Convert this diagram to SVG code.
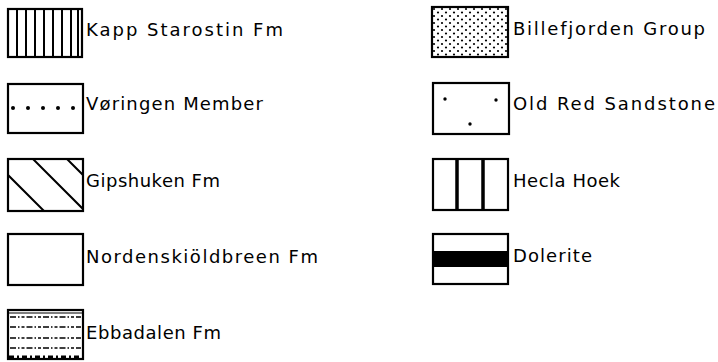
<svg xmlns="http://www.w3.org/2000/svg" width="718" height="362" viewBox="0 0 718 362">
<defs>
<style>
.box{fill:#fff;stroke:#000;stroke-width:2.2}
.ln{stroke:#000;stroke-width:2;fill:none}
.lbl{font-family:"DejaVu Sans","Liberation Sans",sans-serif;font-size:18px;fill:#000}
.dd{stroke:#000;stroke-width:1.6;stroke-dasharray:6 2 1.5 2 3 2}
</style>
<pattern id="stip" width="8" height="7" patternUnits="userSpaceOnUse">
<circle cx="2" cy="2" r="1.1" fill="#000"/>
<circle cx="6" cy="5.5" r="1.1" fill="#000"/>
</pattern>
<clipPath id="cg"><rect x="8" y="159" width="75" height="52"/></clipPath>
</defs>
<rect width="718" height="362" fill="#fff"/>

<g id="kapp">
<rect class="box" x="8" y="9" width="74" height="48"/>
<path class="ln" d="M17 9V57M26 9V57M35 9V57M44 9V57M53 9V57M62 9V57M71 9V57M78 9V57"/>
<text class="lbl" x="86" y="36" textLength="197">Kapp Starostin Fm</text>
</g>

<g id="voringen">
<rect class="box" x="8" y="84" width="75" height="49"/>
<g fill="#000"><circle cx="13" cy="108" r="2"/><circle cx="28" cy="108" r="2"/><circle cx="43" cy="108" r="2"/><circle cx="58" cy="108" r="2"/><circle cx="73" cy="108" r="2"/></g>
<text class="lbl" x="86" y="110" textLength="177">Vøringen Member</text>
</g>

<g id="gipshuken">
<rect class="box" x="8" y="159" width="75" height="52"/>
<path class="ln" clip-path="url(#cg)" d="M-8 159L44 211M33 159L85 211M67 159L119 211"/>
<text class="lbl" x="86" y="187" textLength="134">Gipshuken Fm</text>
</g>

<g id="nordenskioldbreen">
<rect class="box" x="8" y="234" width="75" height="51"/>
<text class="lbl" x="86" y="263" textLength="232">Nordenskiöldbreen Fm</text>
</g>

<g id="ebbadalen">
<rect class="box" x="8" y="310" width="75" height="49"/>
<path class="ln" style="stroke-width:1.2" d="M8 313H83"/>
<path class="dd" d="M10 317H81M10 327H81M10 338H81M10 348H81"/>
<path d="M9 357H82" stroke="#000" stroke-width="3" stroke-dasharray="5 3 2 3"/>
<text class="lbl" x="86" y="339" textLength="135">Ebbadalen Fm</text>
</g>

<g id="billefjorden">
<rect class="box" x="432" y="7" width="76" height="50"/>
<rect x="433" y="8" width="74" height="48" fill="url(#stip)"/>
<text class="lbl" x="513" y="35" textLength="192">Billefjorden Group</text>
</g>

<g id="oldred">
<rect class="box" x="433" y="83" width="76" height="51"/>
<g fill="#000"><circle cx="445" cy="99" r="1.7"/><circle cx="496" cy="100" r="1.7"/><circle cx="470" cy="124" r="1.7"/></g>
<text class="lbl" x="513" y="110" textLength="202">Old Red Sandstone</text>
</g>

<g id="hecla">
<rect class="box" x="433" y="159" width="75" height="51"/>
<path class="ln" style="stroke-width:3.5" d="M457 159V210M483 159V210"/>
<text class="lbl" x="513" y="187" textLength="107">Hecla Hoek</text>
</g>

<g id="dolerite">
<rect class="box" x="433" y="234" width="75" height="50"/>
<rect x="433" y="251" width="75" height="16" fill="#000"/>
<text class="lbl" x="513" y="262" textLength="79">Dolerite</text>
</g>
</svg>
